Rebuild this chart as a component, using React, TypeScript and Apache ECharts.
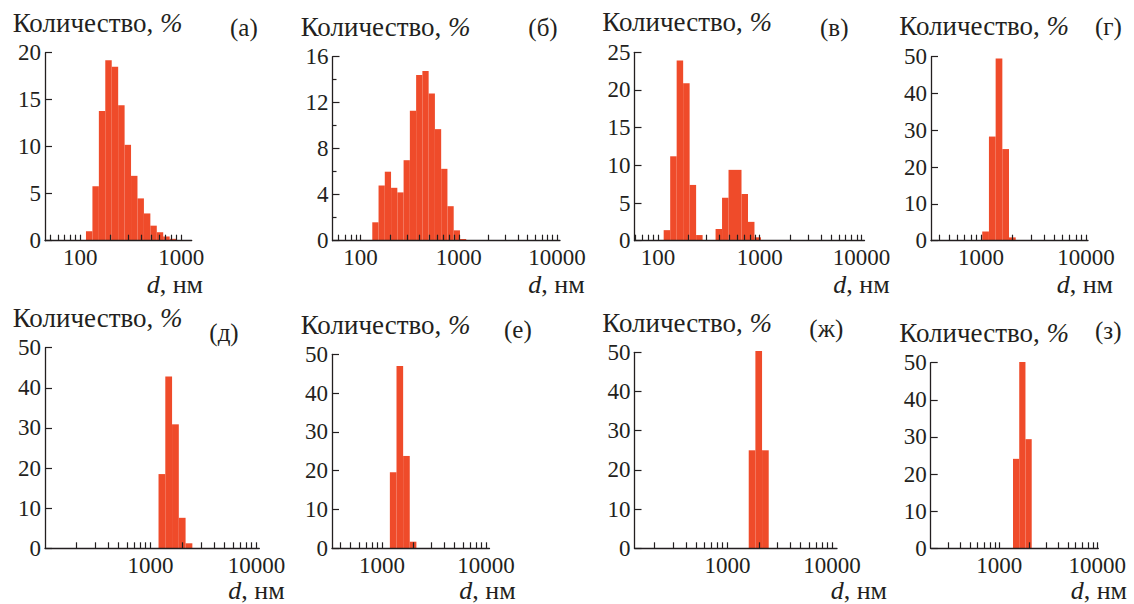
import React, { useEffect, useRef } from "react";
import * as echarts from "echarts";

// ---- data: particle size (nm, bin centre) and number fraction (%) ----
const sizesA = [122.4, 141.8, 164.2, 190.1, 220.2, 255.0, 295.3, 342.0, 396.1, 458.7, 531.2, 615.1, 712.4, 825.0];
const countA = [1.0, 5.8, 13.8, 19.2, 18.5, 14.4, 10.2, 6.9, 4.5, 2.9, 1.6, 0.9, 0.45, 0.2];

const sizesB = [141.8, 164.2, 190.1, 220.2, 255.0, 295.3, 342.0, 396.1, 458.7, 531.2, 615.1, 712.4, 825.0, 955.4, 1106];
const countB = [1.6, 4.8, 6.0, 4.6, 4.2, 7.0, 11.3, 14.4, 14.75, 12.8, 9.7, 6.25, 3.0, 0.9, 0.15];

const sizesV = [122.4, 141.8, 164.2, 190.1, 220.2, 255.0, 396.1, 458.7, 531.2, 615.1, 712.4, 825.0, 955.4];
const countV = [1.4, 11.2, 23.9, 20.9, 7.4, 0.75, 1.55, 5.7, 9.4, 9.4, 6.2, 2.5, 0.45];

const sizesG = [1106, 1281, 1484, 1718, 1990];
const countG = [2.5, 28.3, 49.5, 24.9, 0.9];

const sizesD = [1281, 1484, 1718, 1990, 2305];
const countD = [18.5, 42.8, 30.9, 7.6, 1.25];

const sizesE = [1281, 1484, 1718, 1990];
const countE = [19.6, 47.0, 23.8, 1.7];

const sizesZh = [1718, 1990, 2305];
const countZh = [25.0, 50.3, 25.0];

const sizesZ = [1484, 1718, 1990];
const countZ = [24.1, 50.2, 29.4];

const panelLetters = ["(а)", "(б)", "(в)", "(г)", "(д)", "(е)", "(ж)", "(з)"];
const yTitle = "Количество, {i|%}";
const xTitle = "{i|d}, нм";
const xLabelDecades = [[2, 3], [2, 3, 4], [2, 3, 4], [3, 4], [3, 4], [3, 4], [3, 4], [3, 4]];
const yMaxes = [20, 16, 25, 50, 50, 50, 50, 50];
const yIntervals = [5, 4, 5, 10, 10, 10, 10, 10];

const FONT = "'Liberation Serif'";
const INK = "#231F20";
const BAR = "#EF4B2A";
const FS_TICK = 23;
const FS_TITLE = 27;
const FS_DLABEL = 26;
const FS_LETTER = 25;

// layout (pixels) and log-axis extents per panel
const layout = [
  { left: 45, right: 191.7, top: 52.7, y0: 240.7, xMin: 1.65, xMax: 3.103, tx: 12.7, ty: 22.6, lx: 230, ly: 27.6, dx: 146.7, dy: 284.5 },
  { left: 332.5, right: 560, top: 56.7, y0: 240.7, xMin: 1.715, xMax: 4.03, tx: 300.7, ty: 26.9, lx: 528.3, ly: 27.6, dx: 528.3, dy: 284.5 },
  { left: 634.5, right: 864.5, top: 52.3, y0: 240.7, xMin: 1.769, xMax: 4.03, tx: 602.3, ty: 21.9, lx: 820, ly: 27.6, dx: 833.3, dy: 284.5 },
  { left: 931, right: 1088, top: 56.7, y0: 240.7, xMin: 2.524, xMax: 4.019, tx: 899.3, ty: 25.9, lx: 1095, ly: 26.9, dx: 1056.7, dy: 284.5 },
  { left: 45, right: 259.3, top: 347.7, y0: 548.3, xMin: 2.005, xMax: 4.026, tx: 12.7, ty: 317.6, lx: 209.3, ly: 332.3, dx: 228.3, dy: 590.5 },
  { left: 332, right: 489.5, top: 354.3, y0: 548.3, xMin: 2.519, xMax: 4.034, tx: 300.7, ty: 324.9, lx: 504, ly: 329.9, dx: 459.3, dy: 590.5 },
  { left: 634.5, right: 837, top: 352.3, y0: 548.3, xMin: 2.11, xMax: 4.048, tx: 602.3, ty: 323.2, lx: 809.3, ly: 328.9, dx: 830.7, dy: 590.5 },
  { left: 930.7, right: 1098.3, top: 362.7, y0: 548.3, xMin: 2.3, xMax: 4.01, tx: 899.3, ty: 332.6, lx: 1095, ly: 330.9, dx: 1070.7, dy: 590.5 },
];

const panelSizes = [sizesA, sizesB, sizesV, sizesG, sizesD, sizesE, sizesZh, sizesZ];
const panelCounts = [countA, countB, countV, countG, countD, countE, countZh, countZ];

function logTicks(min: number, max: number): number[] {
  const out: number[] = [];
  for (let e = 1; e <= 4; e++) {
    for (let k = 1; k <= 9; k++) {
      const v = Math.log10(k * Math.pow(10, e));
      if (v > min + 0.004 && v <= max + 1e-9) out.push(v);
    }
  }
  return out;
}

const tickText = { fontFamily: FONT, fontSize: FS_TICK, color: INK };

function buildOption() {
  const grid: any[] = [];
  const xAxis: any[] = [];
  const yAxis: any[] = [];
  const series: any[] = [];
  const graphic: any[] = [];

  layout.forEach((p, i) => {
    grid.push({ left: p.left, top: p.top, width: p.right - p.left, height: p.y0 - p.top, show: false });
    xAxis.push({
      type: "value",
      gridIndex: i,
      min: p.xMin,
      max: p.xMax,
      z: 5,
      splitLine: { show: false },
      axisLine: { show: true, onZero: false, lineStyle: { color: INK, width: 1.3 } },
      axisTick: { show: true, inside: true, length: 6, customValues: logTicks(p.xMin, p.xMax), lineStyle: { color: INK, width: 1.2 } },
      axisLabel: {
        customValues: xLabelDecades[i],
        formatter: (v: number) => String(Math.round(Math.pow(10, v))),
        margin: 7,
        lineHeight: 20,
        ...tickText,
      },
    });
    yAxis.push({
      type: "value",
      gridIndex: i,
      min: 0,
      max: yMaxes[i],
      interval: yIntervals[i],
      z: 5,
      splitLine: { show: false },
      axisLine: { show: true, onZero: false, lineStyle: { color: INK, width: 1.3 } },
      axisTick: { show: true, inside: true, length: 7, lineStyle: { color: INK, width: 1.2 } },
      minorTick: i === 1 ? { show: true, splitNumber: 2, length: 4, lineStyle: { color: INK, width: 1.2 } } : { show: false },
      minorSplitLine: { show: false },
      axisLabel: { margin: 4, lineHeight: 20, ...tickText },
    });
    const sizes = panelSizes[i];
    const counts = panelCounts[i];
    const half = Math.log10(sizes[1] / sizes[0]) / 2;
    series.push({
      type: "custom",
      xAxisIndex: i,
      yAxisIndex: i,
      z: 1,
      data: sizes.map((d, j) => [Math.log10(d), counts[j]]),
      renderItem: (params: any, api: any) => {
        const c = api.value(0);
        const v = api.value(1);
        const p0 = api.coord([c - half, v]);
        const p1 = api.coord([c + half, 0]);
        return {
          type: "rect",
          shape: { x: p0[0], y: p0[1], width: p1[0] - p0[0], height: p1[1] - p0[1] },
          style: { fill: BAR },
        };
      },
    });
    const richTitle = { i: { fontStyle: "italic", fontFamily: FONT, fontSize: FS_TITLE, fill: INK } };
    const richD = { i: { fontStyle: "italic", fontFamily: FONT, fontSize: FS_DLABEL, fill: INK } };
    graphic.push({
      type: "text",
      x: p.tx,
      y: p.ty,
      style: { text: yTitle, fontFamily: FONT, fontSize: FS_TITLE, fill: INK, verticalAlign: "middle", align: "left", rich: richTitle },
    });
    graphic.push({
      type: "text",
      x: p.lx,
      y: p.ly,
      style: { text: panelLetters[i], fontFamily: FONT, fontSize: FS_LETTER, fill: INK, verticalAlign: "middle", align: "left" },
    });
    graphic.push({
      type: "text",
      x: p.dx,
      y: p.dy,
      style: { text: xTitle, fontFamily: FONT, fontSize: FS_DLABEL, fill: INK, verticalAlign: "middle", align: "left", rich: richD },
    });
  });

  return {
    animation: false,
    backgroundColor: "#ffffff",
    grid,
    xAxis,
    yAxis,
    series,
    graphic,
  };
}

export default function App() {
  const ref = useRef<HTMLDivElement>(null);
  useEffect(() => {
    if (!ref.current) return;
    const chart = echarts.init(ref.current, undefined, { renderer: "svg" });
    chart.setOption(buildOption());
    return () => chart.dispose();
  }, []);
  return (
    <div
      ref={ref}
      style={{ position: "fixed", left: 0, top: 0, width: 1134, height: 604, background: "#fff" }}
    />
  );
}
